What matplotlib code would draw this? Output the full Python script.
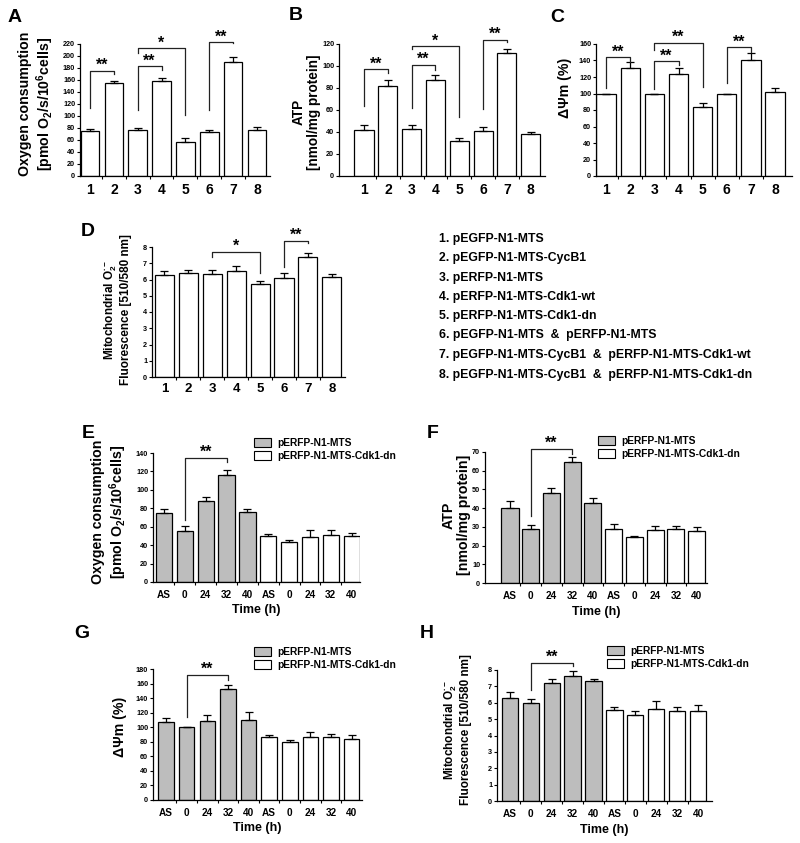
import matplotlib
matplotlib.use("Agg")
import matplotlib.pyplot as plt
import numpy as np
from matplotlib.patches import Patch

plt.rcParams['font.family'] = ['Liberation Sans', 'DejaVu Sans']
plt.rcParams['font.weight'] = 'bold'
plt.rcParams['mathtext.fontset'] = 'custom'
plt.rcParams['mathtext.rm'] = 'Liberation Sans:bold'
plt.rcParams['mathtext.bf'] = 'Liberation Sans:bold'
plt.rcParams['mathtext.it'] = 'Liberation Sans:bold:italic'
plt.rcParams['mathtext.default'] = 'rm'

# ---------------- data ----------------
groups = ['1', '2', '3', '4', '5', '6', '7', '8']
A_vals = [75, 155, 76, 158, 57, 73, 190, 77]
A_err = [4, 4, 4, 5, 7, 3, 9, 4]
B_vals = [42, 82, 43, 87, 32, 41, 112, 38]
B_err = [4, 5, 3, 5, 3, 4, 3, 2]
C_vals = [100, 131, 100, 124, 84, 100, 141, 102]
C_err = [0, 7, 0, 7, 5, 0, 8, 5]
D_vals = [6.25, 6.42, 6.36, 6.5, 5.7, 6.12, 7.4, 6.17]
D_err = [0.25, 0.18, 0.2, 0.32, 0.18, 0.28, 0.25, 0.15]

legend_items = ['1. pEGFP-N1-MTS',
                '2. pEGFP-N1-MTS-CycB1',
                '3. pERFP-N1-MTS',
                '4. pERFP-N1-MTS-Cdk1-wt',
                '5. pERFP-N1-MTS-Cdk1-dn',
                '6. pEGFP-N1-MTS  &  pERFP-N1-MTS',
                '7. pEGFP-N1-MTS-CycB1  &  pERFP-N1-MTS-Cdk1-wt',
                '8. pEGFP-N1-MTS-CycB1  &  pERFP-N1-MTS-Cdk1-dn']

time_labels = ['AS', '0', '24', '32', '40']
series_names = ['pERFP-N1-MTS', 'pERFP-N1-MTS-Cdk1-dn']
E_gray = [75, 55, 88, 116, 76]
E_gray_err = [4, 6, 4, 6, 3]
E_white = [50, 43, 49, 51, 50]
E_white_err = [2, 3, 7, 5, 3]
F_gray = [40.2, 29, 48, 64.5, 42.5]
F_gray_err = [3.8, 2, 3, 3, 2.8]
F_white = [29, 24.7, 28.2, 28.7, 27.8]
F_white_err = [2.7, 0.5, 2.3, 1.5, 2]
G_gray = [107, 100, 108, 152, 110]
G_gray_err = [6, 0, 9, 6, 11]
G_white = [87, 80, 86, 86, 84]
G_white_err = [3, 3, 7, 5, 6]
H_gray = [6.3, 6.0, 7.2, 7.65, 7.3]
H_gray_err = [0.37, 0.2, 0.25, 0.3, 0.15]
H_white = [5.57, 5.27, 5.63, 5.52, 5.5]
H_white_err = [0.18, 0.25, 0.45, 0.25, 0.35]

# ---------------- layout helpers ----------------
W, H = 800, 843
fig = plt.figure(figsize=(W / 100, H / 100), dpi=100)
GRAY = '#bdbdbd'


def add_ax(x0, x1, ytop, ybot):
    return fig.add_axes([x0 / W, 1 - ybot / H, (x1 - x0) / W, (ybot - ytop) / H])


def style(ax, ymax, ystep, xlim, xlabels, xpos, xfs, xpad=5, ytfs=5.2):
    ax.set_ylim(0, ymax)
    ax.set_xlim(*xlim)
    ax.set_yticks(np.arange(0, ymax + ystep / 2, ystep))
    for lab in ax.get_yticklabels():
        lab.set_fontweight('bold')
    ax.tick_params(axis='y', labelsize=ytfs, length=2.5, width=0.8, pad=1)
    ax.set_xticks(xpos)
    ax.set_xticklabels(xlabels, fontsize=xfs, fontweight='bold')
    ax.tick_params(axis='x', length=0, pad=xpad)
    ax.set_xticks(np.array(xpos[:-1]) + 0.5, minor=True)
    ax.tick_params(axis='x', which='minor', length=2.5, width=0.8)
    for s in ['top', 'right']:
        ax.spines[s].set_visible(False)
    for s in ['left', 'bottom']:
        ax.spines[s].set_linewidth(0.9)


def bars(ax, x, vals, errs, color, width):
    return ax.bar(x, vals, width=width, color=color, edgecolor='black', linewidth=0.9,
                  yerr=[np.zeros(len(errs)), errs],
                  error_kw=dict(capsize=2.6, elinewidth=0.9, capthick=0.9, ecolor='black'))


def bracket(ax, x1, x2, ytop, yl, yr, txt, fs=11.5):
    ax.plot([x1, x1, x2, x2], [yl, ytop, ytop, yr], color='#222222', lw=0.9, clip_on=False)
    ax.annotate(txt, xy=((x1 + x2) / 2, ytop), xytext=(0, -1.5), textcoords='offset points',
                ha='center', va='bottom', fontsize=fs, fontweight='bold', annotation_clip=False)


def letter(x, y, s):
    fig.text(x / W, 1 - y / H, s, fontsize=14, fontweight='bold', ha='center', va='center')


def ylab(x, y, s, fs=10):
    fig.text(x / W, 1 - y / H, s, rotation=90, fontsize=fs, fontweight='bold',
             ha='center', va='center', multialignment='center', linespacing=1.1)


xg = np.arange(1, 9)

# ---------------- Panel A ----------------
axA = add_ax(80, 270, 44, 176)
bars(axA, xg, A_vals, A_err, 'white', 0.78)
style(axA, 220, 20, (0.58, 8.55), groups, xg, 10)
bracket(axA, 1, 2, 175, 113, 170, '**')
bracket(axA, 3, 4, 183, 110, 177, '**')
bracket(axA, 3, 5, 213, 205, 102, '*')
bracket(axA, 6, 7, 223, 110, 221, '**')
ylab(37, 104, 'Oxygen consumption\n[pmol O$_2$/s/10$^6$cells]', 10.2)
letter(15, 18, 'A')

# ---------------- Panel B ----------------
axB = add_ax(339, 545, 44, 176)
bars(axB, xg, B_vals, B_err, 'white', 0.8)
style(axB, 120, 20, (-0.05, 8.6), groups, xg, 10)
bracket(axB, 1, 2, 97, 64, 94, '**')
bracket(axB, 3, 4, 101, 62, 96, '**')
bracket(axB, 3, 5, 118, 115, 54, '*')
bracket(axB, 6, 7, 124, 61, 122, '**')
ylab(306, 112, 'ATP\n[nmol/mg protein]', 9.8)
letter(296, 16, 'B')

# ---------------- Panel C ----------------
axC = add_ax(596, 792, 44, 176)
bars(axC, xg, C_vals, C_err, 'white', 0.8)
style(axC, 160, 20, (0.58, 8.7), groups, xg, 10)
bracket(axC, 1, 2, 144, 107, 138, '**')
bracket(axC, 3, 4, 139, 105, 135, '**')
bracket(axC, 3, 5, 161, 153, 108, '**')
bracket(axC, 6, 7, 156, 113, 150, '**')
ylab(565, 88, 'ΔΨm (%)', 10.2)
letter(557, 18, 'C')

# ---------------- Panel D ----------------
axD = add_ax(152, 345, 247, 377)
bars(axD, xg, D_vals, D_err, 'white', 0.8)
style(axD, 8, 1, (0.48, 8.55), groups, xg, 9.5, xpad=4)
bracket(axD, 3, 5, 7.7, 7.4, 6.4, '*')
bracket(axD, 6, 7, 8.4, 6.8, 8.25, '**')
ylab(117, 310, 'Mitochondrial O$_2^{\\bullet-}$\nFluorescence [510/580 nm]', 8.5)
letter(88, 231, 'D')

leg_y = [239, 258, 278, 297, 316, 335, 355, 375]
for t, yy in zip(legend_items, leg_y):
    fig.text(439 / W, 1 - yy / H, t, fontsize=8.8, fontweight='bold', ha='left', va='center')

# ---------------- time panels ----------------
xt = np.arange(10)
xt_labels = time_labels + time_labels


def time_panel(ax, gray, gerr, white, werr, ymax, ystep, xlim, width):
    bars(ax, xt[:5], gray, gerr, GRAY, width)
    bars(ax, xt[5:], white, werr, 'white', width)
    style(ax, ymax, ystep, xlim, xt_labels, xt, 7.2, xpad=6)
    ax.set_xlabel('Time (h)', fontsize=9, fontweight='bold', labelpad=3)


def time_legend(x, y):
    handles = [Patch(facecolor=GRAY, edgecolor='black', linewidth=0.8),
               Patch(facecolor='white', edgecolor='black', linewidth=0.8)]
    fig.legend(handles, series_names, loc='upper left', bbox_to_anchor=(x / W, 1 - y / H),
               frameon=False, prop={'weight': 'bold', 'size': 7.4},
               handlelength=1.7, handleheight=1.0, handletextpad=0.6,
               labelspacing=0.25, borderpad=0, borderaxespad=0)


# Panel E
axE = add_ax(153, 360, 453, 582)
time_panel(axE, E_gray, E_gray_err, E_white, E_white_err, 140, 20, (-0.53, 9.4), 0.78)
bracket(axE, 1, 3, 134.6, 67, 130, '**')
ylab(110, 512, 'Oxygen consumption\n[pmol O$_2$/s/10$^6$cells]', 10.2)
letter(88, 434, 'E')
time_legend(254, 438)

# Panel F
axF = add_ax(485, 707, 452, 583)
time_panel(axF, F_gray, F_gray_err, F_white, F_white_err, 70, 10, (-1.2, 9.5), 0.83)
bracket(axF, 1, 3, 71.6, 36, 69, '**')
ylab(456, 515, 'ATP\n[nmol/mg protein]', 10.2)
letter(433, 434, 'F')
time_legend(598, 436)

# Panel G
axG = add_ax(153, 362, 669, 800)
time_panel(axG, G_gray, G_gray_err, G_white, G_white_err, 180, 20, (-0.63, 9.5), 0.75)
bracket(axG, 1, 3, 172, 114, 165, '**')
ylab(120, 727, 'ΔΨm (%)', 10.2)
letter(82, 634, 'G')
time_legend(254, 647)

# Panel H
axH = add_ax(497, 712, 670, 801)
time_panel(axH, H_gray, H_gray_err, H_white, H_white_err, 8, 1, (-0.62, 9.67), 0.78)
bracket(axH, 1, 3, 8.43, 6.78, 8.25, '**')
ylab(457, 730, 'Mitochondrial O$_2^{\\bullet-}$\nFluorescence [510/580 nm]', 8.5)
letter(427, 634, 'H')
time_legend(607, 646)

fig.savefig('out.png', dpi=100)
